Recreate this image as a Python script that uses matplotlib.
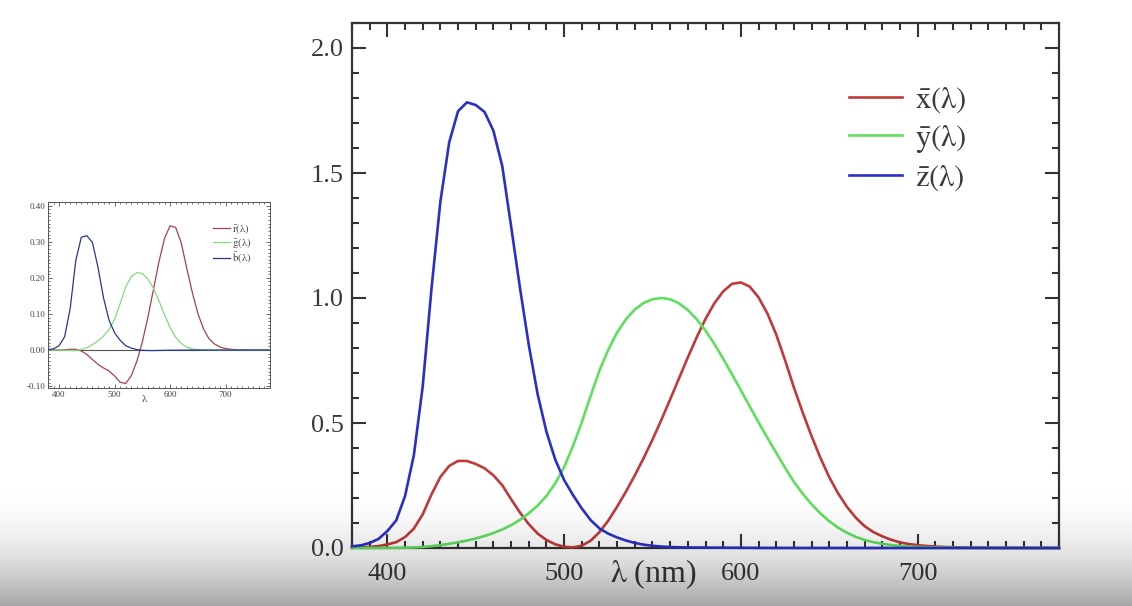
import numpy as np
import matplotlib
matplotlib.use("Agg")
import matplotlib.pyplot as plt
from matplotlib.ticker import MultipleLocator, FormatStrFormatter

plt.rcParams['font.family'] = ['Liberation Serif', 'DejaVu Serif']
plt.rcParams['mathtext.fontset'] = 'stix'

# CIE 1931 XYZ colour matching functions, 5 nm steps
wavelength = list(range(380, 785, 5))
xbar = [0.0014, 0.0022, 0.0042, 0.0077, 0.0143, 0.0232, 0.0435, 0.0776, 0.1344, 0.2148,
        0.2839, 0.3285, 0.3483, 0.3481, 0.3362, 0.3187, 0.2908, 0.2511, 0.1954, 0.1421,
        0.0956, 0.0580, 0.0320, 0.0147, 0.0049, 0.0024, 0.0093, 0.0291, 0.0633, 0.1096,
        0.1655, 0.2257, 0.2904, 0.3597, 0.4334, 0.5121, 0.5945, 0.6784, 0.7621, 0.8425,
        0.9163, 0.9786, 1.0263, 1.0567, 1.0622, 1.0456, 1.0026, 0.9384, 0.8544, 0.7514,
        0.6424, 0.5419, 0.4479, 0.3608, 0.2835, 0.2187, 0.1649, 0.1212, 0.0874, 0.0636,
        0.0468, 0.0329, 0.0227, 0.0158, 0.0114, 0.0081, 0.0058, 0.0041, 0.0029, 0.0020,
        0.0014, 0.0010, 0.0007, 0.0005, 0.0003, 0.0002, 0.0002, 0.0001, 0.0001, 0.0001,
        0.0000]
ybar = [0.0000, 0.0001, 0.0001, 0.0002, 0.0004, 0.0006, 0.0012, 0.0022, 0.0040, 0.0073,
        0.0116, 0.0168, 0.0230, 0.0298, 0.0380, 0.0480, 0.0600, 0.0739, 0.0910, 0.1126,
        0.1390, 0.1693, 0.2080, 0.2586, 0.3230, 0.4073, 0.5030, 0.6082, 0.7100, 0.7932,
        0.8620, 0.9149, 0.9540, 0.9803, 0.9950, 1.0000, 0.9950, 0.9786, 0.9520, 0.9154,
        0.8700, 0.8163, 0.7570, 0.6949, 0.6310, 0.5668, 0.5030, 0.4412, 0.3810, 0.3210,
        0.2650, 0.2170, 0.1750, 0.1382, 0.1070, 0.0816, 0.0610, 0.0446, 0.0320, 0.0232,
        0.0170, 0.0119, 0.0082, 0.0057, 0.0041, 0.0029, 0.0021, 0.0015, 0.0010, 0.0007,
        0.0005, 0.0004, 0.0002, 0.0002, 0.0001, 0.0001, 0.0001, 0.0000, 0.0000, 0.0000,
        0.0000]
zbar = [0.0065, 0.0106, 0.0201, 0.0362, 0.0679, 0.1102, 0.2074, 0.3713, 0.6456, 1.0391,
        1.3856, 1.6230, 1.7471, 1.7826, 1.7721, 1.7441, 1.6692, 1.5281, 1.2876, 1.0419,
        0.8130, 0.6162, 0.4652, 0.3533, 0.2720, 0.2123, 0.1582, 0.1117, 0.0783, 0.0573,
        0.0422, 0.0298, 0.0203, 0.0134, 0.0088, 0.0058, 0.0039, 0.0028, 0.0021, 0.0018,
        0.0017, 0.0014, 0.0011, 0.0010, 0.0008, 0.0006, 0.0003, 0.0002, 0.0002, 0.0001,
        0.0001, 0.0000, 0.0000, 0.0000, 0.0000, 0.0000, 0.0000, 0.0000, 0.0000, 0.0000,
        0.0000, 0.0000, 0.0000, 0.0000, 0.0000, 0.0000, 0.0000, 0.0000, 0.0000, 0.0000,
        0.0000, 0.0000, 0.0000, 0.0000, 0.0000, 0.0000, 0.0000, 0.0000, 0.0000, 0.0000,
        0.0000]

# CIE 1931 RGB colour matching functions, 10 nm steps (small chart)
wavelength_rgb = list(range(380, 790, 10))
rbar = [0.0000, 0.0001, 0.0003, 0.0008, 0.0021, 0.0022, -0.0026, -0.0121, -0.0261, -0.0393,
        -0.0494, -0.0581, -0.0717, -0.0890, -0.0926, -0.0710, -0.0315, 0.0228, 0.0906, 0.1677,
        0.2453, 0.3093, 0.3443, 0.3397, 0.2971, 0.2268, 0.1597, 0.1017, 0.0593, 0.0315,
        0.0169, 0.0082, 0.0041, 0.0021, 0.0011, 0.0005, 0.0003, 0.0001, 0.0001, 0.0000,
        0.0000]
gbar = [0.0000, 0.0000, -0.0001, -0.0004, -0.0011, -0.0012, 0.0015, 0.0068, 0.0149, 0.0254,
        0.0391, 0.0569, 0.0854, 0.1286, 0.1747, 0.2032, 0.2147, 0.2118, 0.1970, 0.1709,
        0.1361, 0.0975, 0.0625, 0.0356, 0.0183, 0.0083, 0.0033, 0.0012, 0.0004, 0.0001,
        0.0000, 0.0000, 0.0000, 0.0000, 0.0000, 0.0000, 0.0000, 0.0000, 0.0000, 0.0000,
        0.0000]
bbar = [0.0012, 0.0036, 0.0121, 0.0371, 0.1154, 0.2477, 0.3123, 0.3167, 0.2982, 0.2299,
        0.1449, 0.0826, 0.0478, 0.0270, 0.0122, 0.0055, 0.0015, -0.0006, -0.0013, -0.0014,
        -0.0011, -0.0008, -0.0005, -0.0003, -0.0002, -0.0001, 0.0000, 0.0000, 0.0000, 0.0000,
        0.0000, 0.0000, 0.0000, 0.0000, 0.0000, 0.0000, 0.0000, 0.0000, 0.0000, 0.0000,
        0.0000]

W, H = 1132, 606
fig = plt.figure(figsize=(W / 100, H / 100), dpi=100)
fig.patch.set_facecolor('white')

axis_grey = '#333333'

# ---- big chart: XYZ ----
ax = fig.add_axes([352 / W, 1 - 548 / H, 707 / W, 525 / H])
ax.plot(wavelength, xbar, color='#c03a3a', lw=1.9, label=r'$\mathrm{\bar{x}(\lambda)}$',
        zorder=3, clip_on=False, solid_joinstyle='round')
ax.plot(wavelength, ybar, color='#5ee05e', lw=1.9, label=r'$\mathrm{\bar{y}(\lambda)}$',
        zorder=3, clip_on=False, solid_joinstyle='round')
ax.plot(wavelength, zbar, color='#2b2fc8', lw=1.9, label=r'$\mathrm{\bar{z}(\lambda)}$',
        zorder=3, clip_on=False, solid_joinstyle='round')
ax.set_xlim(380, 780)
ax.set_ylim(0, 2.1)
ax.set_xticks([400, 500, 600, 700])
ax.set_yticks([0, 0.5, 1.0, 1.5, 2.0])
ax.xaxis.set_minor_locator(MultipleLocator(10))
ax.yaxis.set_minor_locator(MultipleLocator(0.1))
ax.yaxis.set_major_formatter(FormatStrFormatter('%.1f'))
ax.tick_params(which='both', direction='in', top=True, right=True,
               color=axis_grey, labelcolor='#3a3a3a', width=1.5)
ax.tick_params(which='major', length=10, labelsize=19)
ax.tick_params(axis='x', which='major', pad=11)
ax.tick_params(axis='y', which='major', pad=6)
ax.tick_params(which='minor', length=5)
for s in ax.spines.values():
    s.set_color(axis_grey)
    s.set_linewidth(1.6)
ax.set_xlabel(r'$\mathrm{\lambda}$ (nm)', fontsize=23, color='#3a3a3a', va='center')
ax.xaxis.set_label_coords(0.426, -0.05)
ax.legend(loc='upper left', bbox_to_anchor=(849 / W, 1 - 85 / H),
          bbox_transform=fig.transFigure, frameon=False, fontsize=22,
          handlelength=1.75, handletextpad=0.4, labelspacing=0.27,
          borderpad=0, borderaxespad=0, labelcolor='#3a3a3a')

# ---- small chart: RGB ----
ax2 = fig.add_axes([48 / W, 1 - 388 / H, 222 / W, 186 / H])
ax2.axhline(0, color='#555555', lw=0.8, zorder=1)
ax2.plot(wavelength_rgb, rbar, color='#a8404c', lw=0.9, label=r'$\mathrm{\bar{r}(\lambda)}$',
         solid_joinstyle='round')
ax2.plot(wavelength_rgb, gbar, color='#7fdc7f', lw=0.9, label=r'$\mathrm{\bar{g}(\lambda)}$',
         solid_joinstyle='round')
ax2.plot(wavelength_rgb, bbar, color='#263590', lw=0.9, label=r'$\mathrm{\bar{b}(\lambda)}$',
         solid_joinstyle='round')
ax2.set_xlim(380, 780)
ax2.set_ylim(-0.105, 0.41)
ax2.set_xticks([400, 500, 600, 700])
ax2.set_yticks([-0.10, 0.0, 0.10, 0.20, 0.30, 0.40])
ax2.xaxis.set_minor_locator(MultipleLocator(10))
ax2.yaxis.set_minor_locator(MultipleLocator(0.01))
ax2.yaxis.set_major_formatter(FormatStrFormatter('%.2f'))
ax2.tick_params(which='both', direction='in', top=True, right=True,
                color='#555555', labelcolor='#444444', width=0.6)
ax2.tick_params(which='major', length=3, labelsize=6.5, pad=2)
ax2.tick_params(which='minor', length=1.5)
for s in ax2.spines.values():
    s.set_color('#555555')
    s.set_linewidth(0.7)
ax2.set_xlabel(r'$\mathrm{\lambda}$', fontsize=8, color='#444444', va='center')
ax2.xaxis.set_label_coords(0.437, -0.055)
ax2.legend(loc='upper left', bbox_to_anchor=(213 / W, 1 - 222 / H),
           bbox_transform=fig.transFigure, frameon=False, fontsize=7.8,
           handlelength=1.6, handletextpad=0.2, labelspacing=0.0,
           borderpad=0, borderaxespad=0, labelcolor='#444444')

# ---- grey shading at the bottom of the frame ----
shade = fig.add_axes([0, 0, 1, 1], zorder=10)
shade.axis('off')
rows = np.arange(H)
t = np.clip((rows - 475) / (H - 475), 0, 1)
alpha = 0.36 * t ** 2.2
overlay = np.zeros((H, 1, 4))
overlay[:, 0, 3] = alpha
shade.imshow(overlay, aspect='auto', extent=[0, 1, 0, 1], interpolation='bilinear')
shade.set_xlim(0, 1)
shade.set_ylim(0, 1)

fig.savefig('out.png', dpi=100)
